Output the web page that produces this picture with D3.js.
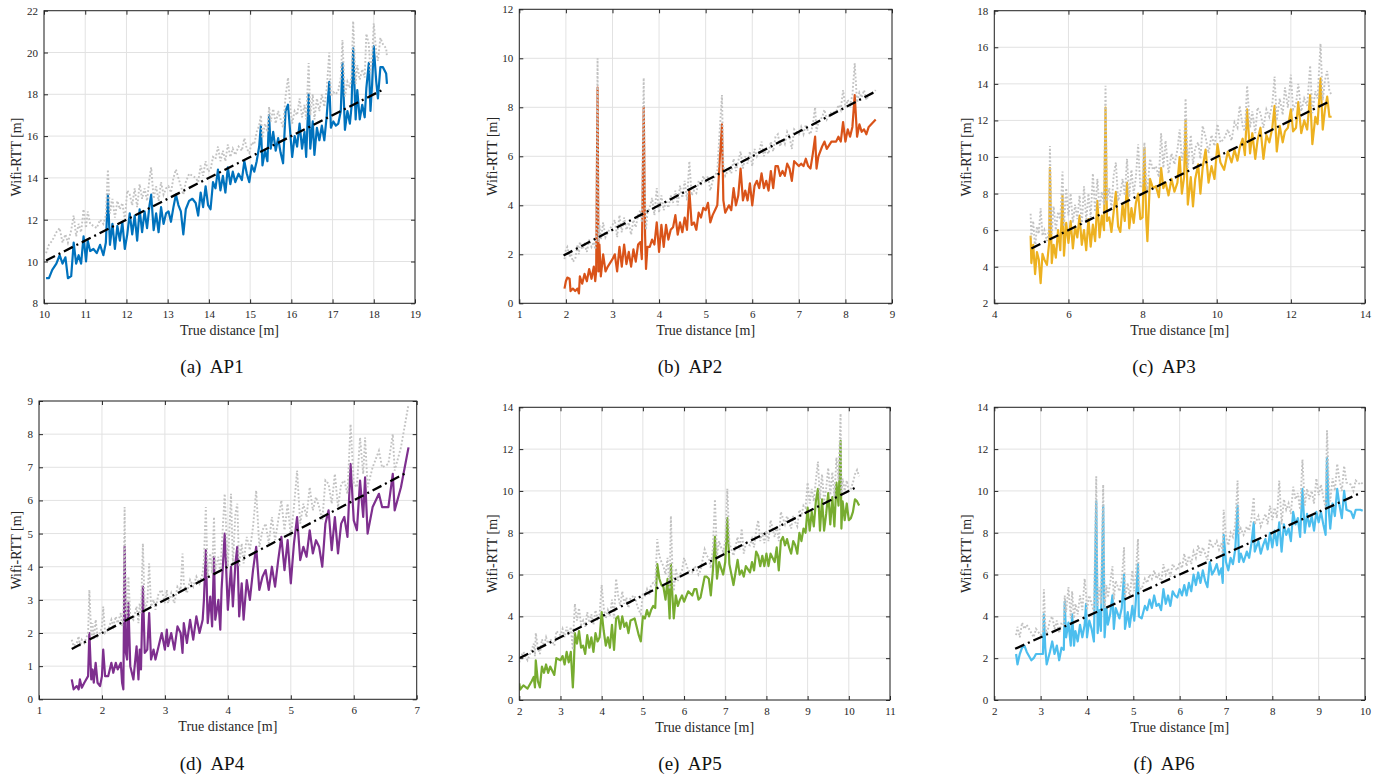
<!DOCTYPE html>
<html>
<head>
<meta charset="utf-8">
<script src="https://cdn.jsdelivr.net/npm/d3@7"></script>
<style>
  body { margin: 0; background: #fff; }
  svg { display: block; }
  svg text { font-family: "Liberation Serif", "Times New Roman", Times, "DejaVu Serif", serif !important; }
</style>
</head>
<body>
<svg id="chart" width="1390" height="781"></svg>
<script>
// ---------- AP1 ----------
let ap1Dist = [10.05,10.12,10.2,10.3,10.38,10.45,10.52,10.58,10.66,10.72,
  10.78,10.84,10.9,10.96,11.02,11.06,11.12,11.2,11.28,11.36,
  11.44,11.5,11.55,11.6,11.66,11.72,11.78,11.84,11.9,11.96,
  12.02,12.08,12.14,12.2,12.26,12.32,12.38,12.44,12.5,12.56,
  12.6,12.66,12.72,12.78,12.84,12.9,12.96,13.02,13.08,13.14,
  13.2,13.26,13.32,13.38,13.44,13.52,13.6,13.68,13.74,13.8,
  13.86,13.92,13.98,14.04,14.1,14.16,14.22,14.28,14.34,14.4,
  14.46,14.52,14.58,14.64,14.72,14.8,14.86,14.92,14.98,15.04,
  15.1,15.16,15.22,15.26,15.3,15.36,15.42,15.46,15.5,15.56,
  15.62,15.68,15.74,15.8,15.86,15.92,15.98,16.02,16.08,16.14,
  16.2,16.26,16.32,16.36,16.42,16.46,16.52,16.56,16.62,16.68,
  16.74,16.8,16.86,16.92,16.96,17.02,17.08,17.14,17.2,17.24,
  17.3,17.36,17.42,17.46,17.5,17.56,17.6,17.66,17.72,17.78,
  17.82,17.88,17.92,17.96,18.0,18.06,18.1,18.16,18.22,18.3,
  18.32]
let ap1Rtt = [9.2,9.2,9.6,9.9,10.3,9.9,10.2,9.2,9.3,10.9,
  9.9,10.3,9.9,11.2,10.0,11.0,10.5,10.6,10.4,10.8,
  10.3,10.9,13.2,10.8,11.8,10.6,11.7,11.0,11.9,10.6,
  11.3,12.3,11.3,12.2,11.0,12.5,11.4,12.4,11.6,12.7,
  13.2,11.5,12.3,11.4,12.6,11.8,12.3,12.4,11.9,12.6,
  13.2,12.7,12.4,11.3,12.5,12.9,13.0,12.8,12.2,13.3,
  12.6,13.6,12.7,12.5,13.8,13.5,14.4,13.4,14.1,13.3,
  14.5,13.7,14.3,13.8,14.2,13.9,14.8,14.2,13.8,14.6,
  14.3,14.8,15.5,16.5,14.6,15.3,14.8,17.0,15.4,16.2,
  15.3,15.9,15.2,14.7,17.2,17.5,16.0,15.0,16.0,15.5,
  16.6,15.4,16.2,15.0,18.0,15.4,16.7,15.1,16.4,15.8,
  16.5,15.8,17.0,18.6,16.4,16.7,16.5,16.6,17.2,19.5,
  16.3,17.2,16.6,17.4,20.2,16.8,18.2,16.8,17.5,16.9,
  18.3,19.5,17.2,18.5,20.3,18.6,17.8,19.3,19.3,19.0,
  18.5]
let ap1Raw = [10.4,10.8,11.0,11.4,11.6,10.9,11.3,10.9,11.5,12.2,
  11.2,11.8,11.4,12.5,11.6,12.4,11.8,11.7,11.6,12.0,
  11.8,12.2,14.4,12.3,13.0,12.1,12.9,12.5,12.8,12.0,
  13.4,13.2,12.7,13.5,12.6,13.7,13.0,13.5,12.9,14.0,
  14.5,13.0,13.6,12.9,13.8,13.2,13.5,13.6,13.3,14.0,
  14.4,14.0,13.6,13.2,13.8,14.2,14.1,14.0,13.8,14.6,
  14.1,14.8,14.3,14.4,15.0,14.9,15.5,14.8,15.3,14.8,
  15.6,15.0,15.4,15.1,15.5,15.3,15.9,15.4,15.2,15.7,
  15.6,16.2,16.5,17.0,15.9,16.6,16.2,17.4,16.7,17.3,
  16.6,17.2,16.8,16.4,17.9,18.8,17.3,16.6,17.2,17.0,
  17.8,16.9,17.5,16.8,19.5,17.0,18.0,16.8,17.8,17.2,
  18.0,17.4,18.3,20.0,17.9,18.1,18.0,18.2,18.8,20.6,
  17.9,18.6,18.3,18.9,21.5,18.5,19.4,18.7,19.2,18.8,
  20.9,20.4,19.0,19.8,21.4,20.0,19.6,20.7,20.4,20.2,
  19.8]
let ap1Truth = [10.05, 18.2]
let ap1XTicks = [10, 11, 12, 13, 14, 15, 16, 17, 18, 19]
let ap1YTicks = [8, 10, 12, 14, 16, 18, 20, 22]

// ---------- AP2 ----------
let ap2Dist = [1.97,2.0,2.03,2.08,2.1,2.15,2.2,2.25,2.28,2.3,
  2.35,2.4,2.45,2.5,2.55,2.6,2.63,2.65,2.68,2.7,
  2.72,2.75,2.8,2.85,2.9,3.0,3.05,3.1,3.15,3.2,
  3.25,3.3,3.35,3.4,3.45,3.5,3.55,3.6,3.63,3.67,
  3.7,3.72,3.75,3.8,3.85,3.9,3.95,4.0,4.05,4.1,
  4.15,4.2,4.25,4.3,4.35,4.4,4.45,4.5,4.55,4.6,
  4.65,4.7,4.75,4.8,4.85,4.9,4.95,5.0,5.05,5.1,
  5.15,5.2,5.25,5.3,5.35,5.38,5.42,5.5,5.55,5.6,
  5.65,5.7,5.75,5.8,5.85,5.9,5.95,6.0,6.05,6.1,
  6.15,6.2,6.25,6.3,6.35,6.4,6.45,6.5,6.55,6.6,
  6.65,6.7,6.75,6.8,6.85,6.9,7.0,7.05,7.1,7.15,
  7.2,7.25,7.3,7.35,7.38,7.42,7.5,7.55,7.6,7.7,
  7.8,7.85,7.9,7.95,8.0,8.05,8.1,8.15,8.2,8.25,
  8.3,8.35,8.4,8.45,8.5,8.6,8.65]
let ap2Rtt = [0.6,0.9,1.05,1.0,0.5,0.6,0.5,0.6,0.4,1.1,
  0.8,1.2,0.9,1.4,1.0,1.5,0.9,1.3,8.8,1.3,
  2.4,1.1,2.0,1.3,1.5,1.8,2.0,1.3,2.3,1.5,
  2.4,1.6,2.1,1.5,2.2,1.7,2.4,2.5,1.8,8.0,
  2.8,1.4,2.3,2.3,2.6,2.4,3.3,2.1,3.2,2.3,
  3.2,2.6,3.0,3.1,3.6,2.8,3.3,2.9,3.5,3.0,
  4.6,3.2,3.3,3.0,3.7,3.5,3.9,3.8,4.1,3.3,
  3.6,3.8,4.0,5.8,7.3,4.2,3.7,4.0,3.8,4.7,
  4.0,4.4,5.5,4.2,4.6,4.2,4.9,4.0,4.8,5.0,
  4.7,5.3,4.7,5.0,4.6,5.4,4.7,5.6,5.6,5.2,
  5.4,5.2,5.7,5.5,5.0,5.8,5.6,5.7,5.6,5.9,
  5.6,5.5,6.1,6.8,5.5,6.0,6.4,6.6,6.3,6.6,
  6.6,6.8,6.6,7.4,6.6,7.1,6.8,7.2,8.5,6.8,
  7.3,7.0,7.1,6.9,7.2,7.4,7.5]
let ap2Raw = [1.8,2.2,2.3,1.9,2.1,1.7,1.8,2.4,2.0,2.5,
  2.2,2.4,2.1,2.6,2.3,2.5,2.2,2.6,10.0,2.5,
  3.2,2.6,3.3,2.7,2.9,3.2,3.4,2.7,3.6,2.9,
  3.5,3.0,3.3,2.8,3.4,3.1,3.6,3.8,3.3,9.2,
  4.2,3.0,3.7,3.9,4.3,3.6,4.7,3.7,4.4,3.8,
  4.2,3.9,4.4,4.1,4.6,4.0,4.8,4.3,5.0,4.2,
  5.8,4.4,4.6,4.5,5.0,4.8,5.2,4.9,5.2,4.6,
  5.0,5.2,5.4,7.0,8.5,5.6,5.2,5.5,5.3,5.9,
  5.4,5.8,6.2,5.5,6.0,5.7,6.2,5.6,6.3,6.0,
  6.2,6.6,6.0,6.3,6.1,6.6,6.2,6.8,6.9,6.4,
  6.7,6.5,7.0,6.8,6.3,7.1,6.9,7.2,6.9,7.3,
  7.0,6.9,7.3,8.0,7.0,7.4,7.6,7.9,7.5,7.8,
  7.8,8.1,7.9,8.7,8.0,8.3,8.1,8.5,9.8,8.2,
  8.6,8.4,8.7,8.3,8.5,8.6,8.7]
let ap2Truth = [1.95, 8.65]
let ap2XTicks = [1, 2, 3, 4, 5, 6, 7, 8, 9]
let ap2YTicks = [0, 2, 4, 6, 8, 10, 12]

// ---------- AP3 ----------
let ap3Dist = [4.98,5.0,5.05,5.1,5.15,5.2,5.25,5.3,5.35,5.42,
  5.48,5.5,5.55,5.6,5.66,5.72,5.78,5.84,5.88,5.94,
  6.0,6.06,6.12,6.18,6.24,6.3,6.36,6.42,6.48,6.54,
  6.6,6.66,6.72,6.78,6.84,6.9,6.96,7.0,7.04,7.1,
  7.16,7.22,7.28,7.34,7.4,7.46,7.52,7.58,7.64,7.7,
  7.76,7.82,7.88,7.94,8.0,8.05,8.1,8.13,8.2,8.28,
  8.36,8.44,8.5,8.56,8.62,8.7,8.78,8.86,8.94,9.0,
  9.06,9.12,9.16,9.22,9.3,9.36,9.42,9.5,9.56,9.62,
  9.7,9.78,9.86,9.94,10.02,10.1,10.2,10.3,10.4,10.48,
  10.56,10.62,10.7,10.76,10.82,10.9,10.96,11.04,11.1,11.18,
  11.26,11.34,11.42,11.5,11.56,11.62,11.7,11.78,11.84,11.92,
  12.0,12.06,12.14,12.2,12.28,12.36,12.44,12.52,12.58,12.66,
  12.72,12.8,12.86,12.92,12.98,13.04,13.1]
let ap3Rtt = [5.7,4.2,5.2,3.6,4.8,4.4,3.1,4.7,4.4,4.1,
  5.3,9.4,4.2,5.2,4.5,6.0,4.9,7.9,4.6,6.4,
  5.3,6.5,5.0,6.2,5.6,6.8,5.2,6.0,4.9,6.6,
  5.1,6.3,5.4,7.6,5.6,6.8,6.0,12.7,6.5,6.7,
  5.9,7.0,8.1,6.2,5.9,7.4,6.5,8.6,6.1,7.2,
  6.4,7.5,8.0,6.6,6.7,10.5,6.5,5.4,8.8,8.3,
  8.4,7.8,9.4,8.3,8.6,7.9,8.8,8.1,8.6,10.0,
  8.0,8.9,12.0,7.4,8.9,7.3,8.8,9.6,8.0,9.4,
  10.4,8.6,9.5,8.8,10.7,9.7,9.3,10.3,9.7,10.4,
  9.8,10.5,11.0,10.1,12.6,10.2,11.3,9.9,10.9,11.6,
  9.9,11.2,10.8,11.6,12.8,10.3,11.7,10.8,11.4,11.6,
  12.6,11.4,11.6,13.0,11.3,12.0,11.5,13.4,10.7,12.2,
  11.8,14.3,11.5,12.6,13.3,12.2,12.2]
let ap3Raw = [6.9,5.6,6.5,5.0,6.2,5.8,7.2,5.7,6.0,5.4,
  6.1,10.6,5.8,7.3,6.0,7.0,6.6,9.2,6.2,8.3,
  6.8,8.0,6.4,7.4,6.6,7.9,6.3,8.4,6.5,8.0,
  6.7,9.1,7.0,8.8,7.2,8.1,7.4,13.9,7.6,8.3,
  7.2,9.0,9.7,7.6,8.0,8.8,7.9,9.9,7.8,9.3,
  8.0,8.9,10.7,8.3,8.6,10.8,8.4,8.2,9.9,9.3,
  9.5,8.9,11.3,9.4,10.9,9.1,10.2,9.6,10.4,11.5,
  9.8,10.4,13.2,9.4,11.2,9.6,10.5,10.8,9.9,11.7,
  11.1,10.2,11.2,10.6,11.8,10.8,11.0,11.5,10.9,11.9,
  11.6,12.8,11.7,11.4,13.9,11.6,12.5,11.3,12.7,12.4,
  11.6,12.6,12.2,12.9,14.4,12.0,13.2,12.3,13.8,12.7,
  14.5,12.6,12.9,14.0,12.5,13.2,12.8,15.0,12.4,13.6,
  13.2,16.2,13.1,14.2,14.7,13.6,13.4]
let ap3Truth = [5.0, 13.05]
let ap3XTicks = [4, 6, 8, 10, 12, 14]
let ap3YTicks = [2, 4, 6, 8, 10, 12, 14, 16, 18]

// ---------- AP4 ----------
let ap4Dist = [1.52,1.55,1.6,1.63,1.65,1.68,1.72,1.78,1.8,1.83,
  1.85,1.87,1.9,1.93,1.97,2.0,2.02,2.05,2.1,2.15,
  2.18,2.22,2.25,2.3,2.32,2.34,2.36,2.38,2.4,2.42,
  2.45,2.5,2.55,2.58,2.6,2.62,2.65,2.68,2.72,2.75,
  2.78,2.82,2.85,2.9,2.95,3.0,3.03,3.05,3.1,3.15,
  3.2,3.25,3.28,3.3,3.35,3.4,3.45,3.5,3.55,3.6,
  3.62,3.65,3.68,3.72,3.75,3.78,3.8,3.85,3.88,3.9,
  3.95,4.0,4.05,4.08,4.12,4.15,4.18,4.22,4.25,4.3,
  4.35,4.4,4.45,4.5,4.55,4.6,4.65,4.7,4.75,4.8,
  4.85,4.9,4.95,5.0,5.05,5.1,5.15,5.2,5.25,5.3,
  5.35,5.4,5.45,5.5,5.55,5.6,5.65,5.7,5.75,5.8,
  5.85,5.9,5.95,6.0,6.05,6.1,6.15,6.18,6.22,6.3,
  6.4,6.45,6.55,6.62,6.65,6.75,6.87]
let ap4Rtt = [0.6,0.3,0.4,0.3,0.6,0.35,0.5,0.7,2.0,0.6,
  0.9,0.5,1.1,0.5,0.4,0.7,1.5,0.7,0.7,1.1,
  0.8,1.1,0.9,1.1,0.5,0.3,4.6,1.4,1.2,2.9,
  1.0,0.6,1.6,0.6,1.5,0.9,3.4,1.4,1.5,2.6,
  1.2,1.5,1.2,1.6,2.0,1.5,2.1,1.6,2.0,1.5,
  2.2,2.0,1.4,2.3,1.7,2.4,1.8,2.5,2.0,2.4,
  3.0,4.5,2.3,3.1,2.2,4.3,2.4,3.0,2.1,3.3,
  5.0,2.7,4.0,2.8,4.1,4.6,2.5,3.5,2.4,3.6,
  3.0,3.9,4.6,3.3,3.7,3.9,3.3,4.0,3.4,4.2,
  4.9,3.9,4.8,3.5,4.7,5.5,4.2,4.6,4.3,5.1,
  4.4,4.8,4.6,4.0,5.3,5.7,4.5,5.5,4.4,5.3,
  5.5,4.9,7.1,5.4,5.1,6.6,5.5,6.7,5.0,5.8,
  6.2,5.8,5.8,6.8,5.7,6.4,7.6]
let ap4Raw = [1.8,1.6,1.7,1.9,1.6,1.8,1.7,2.0,3.3,1.9,
  2.3,1.8,2.4,1.9,2.0,2.2,2.8,2.0,2.1,2.4,
  2.2,2.5,2.3,2.6,2.2,2.4,5.8,2.6,2.5,3.7,
  2.5,2.4,2.8,2.3,2.9,2.6,4.7,2.7,2.9,4.1,
  2.8,3.0,2.7,3.2,3.3,2.9,3.3,2.9,3.2,2.9,
  3.4,3.3,4.4,3.5,3.2,3.6,3.4,3.7,3.5,3.8,
  4.2,5.8,3.7,4.4,3.8,5.5,3.9,4.3,3.8,4.5,
  6.2,4.0,6.2,4.1,5.6,5.9,4.0,4.7,4.1,4.9,
  4.5,5.2,6.3,4.6,5.1,5.3,4.7,5.5,4.8,5.4,
  6.0,5.1,5.9,4.9,5.8,6.9,5.3,5.9,5.5,6.4,
  5.7,6.1,5.8,5.4,6.6,6.5,5.9,6.8,5.8,6.5,
  6.6,6.2,8.3,6.5,6.4,7.9,6.8,7.9,6.4,7.0,
  7.5,7.0,7.1,8.0,6.9,7.6,8.9]
let ap4Truth = [1.52, 6.85]
let ap4XTicks = [1, 2, 3, 4, 5, 6, 7]
let ap4YTicks = [0, 1, 2, 3, 4, 5, 6, 7, 8, 9]

// ---------- AP5 ----------
let ap5Dist = [2.0,2.02,2.1,2.2,2.3,2.35,2.38,2.4,2.45,2.5,
  2.55,2.6,2.65,2.7,2.75,2.8,2.85,2.9,3.0,3.05,
  3.1,3.15,3.2,3.25,3.3,3.32,3.35,3.4,3.45,3.5,
  3.55,3.6,3.65,3.7,3.75,3.8,3.85,3.9,3.95,4.0,
  4.05,4.1,4.15,4.2,4.25,4.3,4.35,4.4,4.45,4.5,
  4.55,4.6,4.65,4.7,4.8,4.85,4.9,4.95,5.0,5.05,
  5.1,5.15,5.2,5.25,5.3,5.35,5.4,5.45,5.5,5.55,
  5.6,5.65,5.68,5.72,5.75,5.8,5.85,5.9,5.95,6.0,
  6.1,6.2,6.25,6.3,6.35,6.4,6.5,6.55,6.6,6.65,
  6.7,6.75,6.8,6.85,6.9,6.95,7.0,7.05,7.1,7.15,
  7.2,7.3,7.35,7.4,7.45,7.5,7.6,7.65,7.7,7.75,
  7.8,7.85,7.9,7.95,8.0,8.05,8.1,8.2,8.25,8.3,
  8.35,8.4,8.45,8.5,8.55,8.6,8.65,8.7,8.75,8.8,
  8.85,8.9,8.95,9.0,9.05,9.1,9.15,9.2,9.25,9.3,
  9.35,9.4,9.45,9.5,9.55,9.6,9.65,9.7,9.75,9.8,
  9.82,9.85,9.9,9.95,10.0,10.05,10.1,10.15,10.2,10.25]
let ap5Rtt = [0.8,0.5,0.7,0.55,0.9,1.1,0.6,1.9,0.9,0.6,
  1.6,1.3,1.7,1.3,1.6,1.4,1.2,2.0,1.9,2.1,
  1.7,2.3,1.8,2.3,0.6,1.4,3.2,2.7,3.3,2.5,
  2.6,2.2,3.1,2.5,3.0,2.3,3.2,2.8,3.0,4.2,
  3.3,2.6,3.0,2.5,3.6,2.4,3.9,4.0,3.4,4.0,
  3.5,3.7,3.2,3.8,3.9,3.5,3.1,2.8,4.0,3.9,
  4.3,4.0,4.3,4.5,4.4,6.5,5.8,5.5,5.4,4.8,
  5.8,3.9,6.5,4.9,3.9,5.0,4.5,4.8,5.0,4.7,
  5.2,5.0,5.3,5.3,4.8,4.9,5.9,5.9,5.8,5.0,
  6.2,7.8,5.8,6.6,6.3,6.0,6.6,8.7,6.5,6.0,
  5.5,6.7,6.0,6.2,5.9,6.4,6.1,6.6,6.2,7.1,
  6.9,6.4,6.9,6.4,7.0,6.4,7.0,6.6,7.3,6.2,
  7.6,7.8,7.4,7.7,7.3,7.0,7.6,7.4,7.0,8.0,
  7.6,8.2,8.0,9.2,8.1,9.0,8.3,9.5,10.1,8.1,
  9.6,8.1,8.9,9.9,8.4,9.7,8.3,10.4,9.3,12.4,
  8.2,9.5,8.6,9.4,8.6,8.7,9.0,9.6,9.5,9.3]
let ap5Raw = [1.8,2.0,2.3,1.9,2.4,2.7,2.1,3.2,2.5,2.2,
  2.9,2.6,3.0,2.7,2.9,2.8,2.6,3.3,3.1,3.4,
  3.0,3.5,3.1,3.5,2.4,3.5,4.6,3.8,4.4,3.6,
  3.8,3.5,4.2,3.7,4.1,3.6,4.3,3.9,4.1,5.5,
  4.4,3.9,4.3,4.0,4.8,3.9,5.8,5.0,4.5,5.2,
  4.6,4.9,4.4,4.9,5.0,4.6,4.3,4.1,5.1,5.0,
  5.3,5.0,5.5,5.6,5.5,7.7,6.9,6.6,6.4,6.0,
  6.8,5.3,8.8,6.1,5.2,6.3,5.7,6.0,6.2,6.8,
  6.2,6.1,6.4,6.3,6.0,6.2,7.2,6.9,6.8,6.3,
  7.3,9.6,6.9,7.6,7.3,7.1,7.6,10.1,7.5,7.2,
  6.9,7.8,7.2,8.2,7.0,7.5,7.4,7.7,7.3,8.1,
  8.6,7.6,8.0,7.5,8.1,7.6,8.6,7.8,8.3,7.6,
  9.0,8.7,8.4,8.8,8.5,8.2,8.8,8.5,8.3,9.1,
  8.8,9.3,9.2,10.4,9.4,10.1,9.5,10.5,11.4,9.6,
  10.8,9.5,10.1,11.1,9.8,10.9,9.7,11.6,10.5,13.7,
  9.9,10.6,10.0,10.5,10.0,10.1,10.4,10.8,11.0,10.7]
let ap5Truth = [2.0, 10.15]
let ap5XTicks = [2, 3, 4, 5, 6, 7, 8, 9, 10, 11]
let ap5YTicks = [0, 2, 4, 6, 8, 10, 12, 14]

// ---------- AP6 ----------
let ap6Dist = [2.47,2.5,2.55,2.6,2.65,2.7,2.8,2.85,2.9,3.0,
  3.05,3.07,3.1,3.13,3.2,3.25,3.3,3.35,3.4,3.45,
  3.5,3.52,3.55,3.6,3.65,3.68,3.72,3.75,3.8,3.85,
  3.9,3.95,3.98,4.0,4.05,4.1,4.15,4.2,4.23,4.27,
  4.3,4.35,4.38,4.42,4.45,4.5,4.55,4.58,4.62,4.7,
  4.75,4.8,4.82,4.88,4.92,4.98,5.02,5.05,5.1,5.12,
  5.18,5.25,5.3,5.35,5.4,5.45,5.5,5.55,5.6,5.65,
  5.7,5.75,5.8,5.85,5.9,5.95,6.0,6.05,6.1,6.15,
  6.2,6.25,6.3,6.35,6.4,6.45,6.5,6.55,6.6,6.65,
  6.7,6.75,6.8,6.85,6.9,6.93,6.95,7.0,7.05,7.1,
  7.15,7.2,7.25,7.28,7.32,7.38,7.45,7.5,7.55,7.6,
  7.62,7.7,7.75,7.8,7.85,7.9,7.95,8.0,8.05,8.1,
  8.15,8.2,8.25,8.3,8.35,8.4,8.45,8.5,8.55,8.6,
  8.65,8.7,8.75,8.8,8.85,8.9,8.95,9.0,9.05,9.1,
  9.15,9.18,9.22,9.25,9.3,9.35,9.4,9.45,9.5,9.55,
  9.6,9.7,9.75,9.8,9.9,9.95]
let ap6Rtt = [2.2,1.7,2.2,2.5,2.6,2.3,1.9,2.0,2.2,2.2,
  2.2,4.1,2.5,1.7,2.3,2.8,2.2,2.6,1.9,2.5,
  2.4,4.7,3.0,3.7,2.6,4.1,2.6,3.3,2.8,3.6,
  3.0,3.6,4.6,3.0,3.8,3.4,2.8,9.5,3.2,4.3,
  3.3,9.3,3.0,4.4,3.6,4.1,5.0,3.4,4.4,3.9,
  4.4,6.0,3.4,4.2,3.5,4.5,3.8,4.6,6.5,4.0,
  3.9,4.5,4.3,4.8,4.4,5.0,4.5,4.6,4.3,5.3,
  4.6,5.0,4.5,5.2,5.0,4.9,5.3,5.0,5.5,5.0,
  5.6,5.2,6.0,5.5,6.1,5.6,6.2,5.7,5.4,6.6,
  6.0,6.2,6.5,6.0,6.3,5.6,7.9,6.6,6.2,6.8,
  6.5,7.2,9.3,6.6,7.0,6.6,7.1,6.8,7.5,8.5,
  7.1,7.6,7.0,7.4,7.7,7.2,8.0,7.3,8.1,7.4,
  8.5,7.1,8.4,7.9,8.2,7.6,9.0,8.4,8.7,7.8,
  10.1,8.0,8.9,8.3,8.8,8.1,9.0,8.5,9.0,8.4,
  7.9,11.6,9.0,8.2,9.4,8.8,10.1,9.3,8.7,10.0,
  9.1,9.0,8.7,9.1,9.1,9.05]
let ap6Raw = [3.1,3.5,3.0,3.7,3.4,3.6,3.2,3.0,3.4,3.1,
  3.3,5.3,3.6,3.1,3.8,4.0,3.4,3.8,3.2,3.7,
  3.6,5.0,4.2,5.4,3.9,5.2,3.9,4.6,4.1,5.0,
  4.3,5.8,5.1,4.3,5.0,4.6,4.2,10.7,4.5,5.4,
  4.6,10.3,4.4,5.5,4.9,5.6,6.4,4.8,5.7,5.2,
  5.7,7.3,4.9,5.6,4.9,6.2,5.2,5.9,7.7,5.4,
  5.3,5.8,5.6,6.0,5.8,6.2,5.8,6.0,5.6,6.5,
  6.0,6.3,5.9,6.5,6.3,6.2,6.6,6.3,7.0,6.4,
  6.9,6.5,7.1,6.8,7.4,6.9,7.3,7.0,6.7,7.7,
  7.3,7.4,7.6,7.2,7.5,7.0,9.1,7.8,7.4,8.0,
  7.8,8.4,10.5,7.9,8.2,7.9,8.3,8.1,8.7,9.7,
  8.4,8.8,8.3,8.6,8.9,8.4,9.3,8.6,9.2,8.7,
  10.5,8.4,9.6,9.1,9.4,8.9,10.2,9.6,9.9,9.1,
  11.5,9.3,10.1,9.6,10.0,9.4,10.6,9.8,10.3,9.7,
  9.2,12.9,10.3,9.5,10.6,10.0,11.3,10.5,10.0,11.2,
  10.4,10.3,10.0,10.5,10.3,10.4]
let ap6Truth = [2.45, 9.85]
let ap6XTicks = [2, 3, 4, 5, 6, 7, 8, 9, 10]
let ap6YTicks = [0, 2, 4, 6, 8, 10, 12, 14]

let panels = [
  { key: 'a', name: 'AP1', color: '#0072BD', dist: ap1Dist, rtt: ap1Rtt, raw: ap1Raw, truth: ap1Truth, xTicks: ap1XTicks, yTicks: ap1YTicks },
  { key: 'b', name: 'AP2', color: '#D95319', dist: ap2Dist, rtt: ap2Rtt, raw: ap2Raw, truth: ap2Truth, xTicks: ap2XTicks, yTicks: ap2YTicks },
  { key: 'c', name: 'AP3', color: '#EDB120', dist: ap3Dist, rtt: ap3Rtt, raw: ap3Raw, truth: ap3Truth, xTicks: ap3XTicks, yTicks: ap3YTicks },
  { key: 'd', name: 'AP4', color: '#7E2F8E', dist: ap4Dist, rtt: ap4Rtt, raw: ap4Raw, truth: ap4Truth, xTicks: ap4XTicks, yTicks: ap4YTicks },
  { key: 'e', name: 'AP5', color: '#77AC30', dist: ap5Dist, rtt: ap5Rtt, raw: ap5Raw, truth: ap5Truth, xTicks: ap5XTicks, yTicks: ap5YTicks },
  { key: 'f', name: 'AP6', color: '#4DBEEE', dist: ap6Dist, rtt: ap6Rtt, raw: ap6Raw, truth: ap6Truth, xTicks: ap6XTicks, yTicks: ap6YTicks }
]

// where each axes box sits on the page
let boxes = {
  a: { left: 44, right: 415, top: 10.7, bottom: 303.3, yLabelX: 16, capX: 212, capY: 373 },
  b: { left: 519.3, right: 892, top: 9.3, bottom: 303.3, yLabelX: 492, capX: 690, capY: 373 },
  c: { left: 994.3, right: 1365, top: 10.7, bottom: 303.3, yLabelX: 966, capX: 1164, capY: 373 },
  d: { left: 39, right: 416.7, top: 401, bottom: 699.3, yLabelX: 16, capX: 212, capY: 770 },
  e: { left: 519.3, right: 890, top: 407.3, bottom: 700, yLabelX: 492, capX: 690, capY: 770 },
  f: { left: 994.3, right: 1365, top: 407.3, bottom: 700, yLabelX: 966, capX: 1164, capY: 770 }
}

let serif = '"Liberation Serif", "Times New Roman", Times, "DejaVu Serif", serif'
let axisColor = '#262626'
let gridColor = '#e2e2e2'
let rawColor = '#c2c2c2'

let svg = d3.select('#chart')

panels.forEach(p => {
  let b = boxes[p.key]
  let x = d3.scaleLinear().domain(d3.extent(p.xTicks)).range([b.left, b.right])
  let y = d3.scaleLinear().domain(d3.extent(p.yTicks)).range([b.bottom, b.top])
  let g = svg.append('g').attr('class', 'panel-' + p.key)

  g.append('clipPath')
    .attr('id', 'clip-' + p.key)
    .append('rect')
    .attr('x', b.left)
    .attr('y', b.top)
    .attr('width', b.right - b.left)
    .attr('height', b.bottom - b.top)

  // grid
  g.selectAll('.vgrid')
    .data(p.xTicks)
    .enter()
    .append('line')
    .attr('x1', d => x(d))
    .attr('x2', d => x(d))
    .attr('y1', b.top)
    .attr('y2', b.bottom)
    .attr('stroke', gridColor)
    .attr('stroke-width', 1)
  g.selectAll('.hgrid')
    .data(p.yTicks)
    .enter()
    .append('line')
    .attr('x1', b.left)
    .attr('x2', b.right)
    .attr('y1', d => y(d))
    .attr('y2', d => y(d))
    .attr('stroke', gridColor)
    .attr('stroke-width', 1)

  let n = Math.min(p.dist.length, p.rtt.length, p.raw.length)
  let idx = d3.range(n)
  let plot = g.append('g').attr('clip-path', 'url(#clip-' + p.key + ')')

  let rttLine = d3.line().x(i => x(p.dist[i])).y(i => y(p.rtt[i]))
  let rawLine = d3.line().x(i => x(p.dist[i])).y(i => y(p.raw[i]))

  plot.append('path')
    .attr('d', rttLine(idx))
    .attr('fill', 'none')
    .attr('stroke', p.color)
    .attr('stroke-width', 2.2)
    .attr('stroke-linejoin', 'round')

  plot.append('path')
    .attr('d', rawLine(idx))
    .attr('fill', 'none')
    .attr('stroke', rawColor)
    .attr('stroke-width', 1.9)
    .attr('stroke-dasharray', '1.8,2')

  plot.append('line')
    .attr('x1', x(p.truth[0]))
    .attr('y1', y(p.truth[0]))
    .attr('x2', x(p.truth[1]))
    .attr('y2', y(p.truth[1]))
    .attr('stroke', '#000')
    .attr('stroke-width', 2.3)
    .attr('stroke-dasharray', '10,4,2,4')

  // axes, ticks pointing inward on all four sides
  let styleAxis = sel => {
    sel.attr('font-family', serif)
    sel.select('.domain').remove()
    sel.selectAll('.tick line').attr('stroke', axisColor)
    sel.selectAll('.tick text')
      .attr('fill', axisColor)
      .attr('font-size', 11)
      .style('font-family', serif)
  }
  g.append('g')
    .attr('transform', 'translate(0,' + b.bottom + ')')
    .call(d3.axisBottom(x).tickValues(p.xTicks).tickSizeInner(-4).tickSizeOuter(0).tickPadding(7).tickFormat(d3.format('d')))
    .call(styleAxis)
  g.append('g')
    .attr('transform', 'translate(0,' + b.top + ')')
    .call(d3.axisTop(x).tickValues(p.xTicks).tickSizeInner(-4).tickSizeOuter(0).tickFormat(''))
    .call(styleAxis)
  g.append('g')
    .attr('transform', 'translate(' + b.left + ',0)')
    .call(d3.axisLeft(y).tickValues(p.yTicks).tickSizeInner(-4).tickSizeOuter(0).tickPadding(6).tickFormat(d3.format('d')))
    .call(styleAxis)
  g.append('g')
    .attr('transform', 'translate(' + b.right + ',0)')
    .call(d3.axisRight(y).tickValues(p.yTicks).tickSizeInner(-4).tickSizeOuter(0).tickFormat(''))
    .call(styleAxis)

  g.append('rect')
    .attr('x', b.left)
    .attr('y', b.top)
    .attr('width', b.right - b.left)
    .attr('height', b.bottom - b.top)
    .attr('fill', 'none')
    .attr('stroke', axisColor)
    .attr('stroke-width', 1)

  g.append('text')
    .attr('x', (b.left + b.right) / 2)
    .attr('y', b.bottom + 32)
    .attr('text-anchor', 'middle')
    .attr('font-size', 14)
    .attr('fill', axisColor)
    .style('font-family', serif)
    .text('True distance [m]')

  g.append('text')
    .attr('transform', 'translate(' + b.yLabelX + ',' + (b.top + b.bottom) / 2 + ') rotate(-90)')
    .attr('text-anchor', 'middle')
    .attr('dy', '0.35em')
    .attr('font-size', 14)
    .attr('fill', axisColor)
    .style('font-family', serif)
    .text('Wifi-RTT [m]')

  g.append('text')
    .attr('x', b.capX)
    .attr('y', b.capY)
    .attr('text-anchor', 'middle')
    .attr('font-size', 19)
    .attr('fill', '#111')
    .style('font-family', serif)
    .style('white-space', 'pre')
    .text('(' + p.key + ')  ' + p.name)
})
</script>
</body>
</html>
